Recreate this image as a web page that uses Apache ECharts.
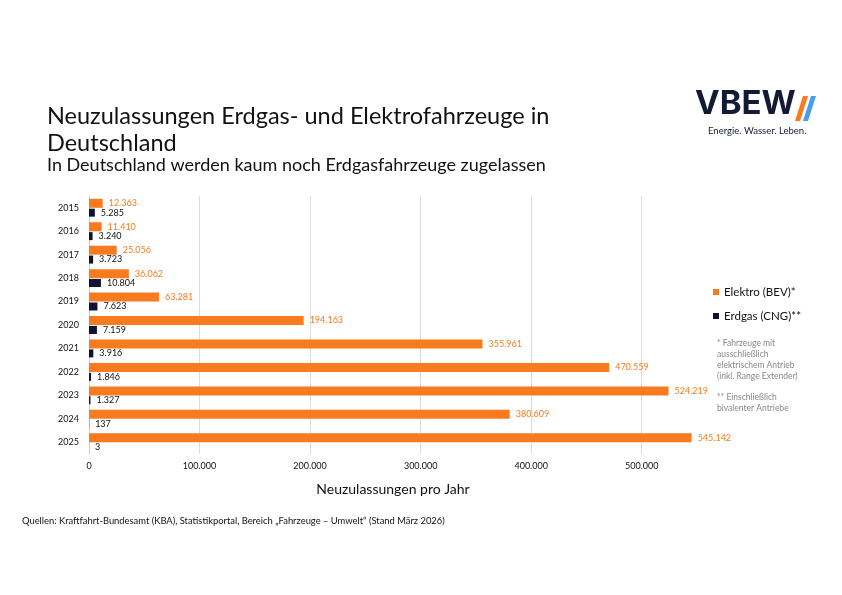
<!DOCTYPE html>
<html>
<head>
<meta charset="utf-8">
<script src="https://cdn.jsdelivr.net/npm/echarts@6/dist/echarts.min.js"></script>
<style>
html,body{margin:0;padding:0;background:#fff;}
#main{width:842px;height:595px;}
</style>
</head>
<body>
<div id="main"></div>
<script>
let years = ['2015','2016','2017','2018','2019','2020','2021','2022','2023','2024','2025'];
let elektro = [12363, 11410, 25056, 36062, 63281, 194163, 355961, 470559, 524219, 380609, 545142];
let erdgas = [5285, 3240, 3723, 10804, 7623, 7159, 3916, 1846, 1327, 137, 3];

let orange = '#fa7a20';
let navy = '#0e1330';
let font = 'Lato';

function fmt(v) {
    return String(v).replace(/\B(?=(\d{3})+(?!\d))/g, '.');
}

let chart = echarts.init(document.getElementById('main'));
let option = {
    backgroundColor: '#fff',
    textStyle: {fontFamily: font},
    title: [{
        text: 'Neuzulassungen Erdgas- und Elektrofahrzeuge in\nDeutschland',
        left: 42, top: 98,
        textStyle: {fontSize: 23.5, fontWeight: 'normal', color: '#111', lineHeight: 27, fontFamily: font}
    }, {
        text: 'In Deutschland werden kaum noch Erdgasfahrzeuge zugelassen',
        left: 42, top: 151,
        textStyle: {fontSize: 18, fontWeight: 'normal', color: '#111', fontFamily: font}
    }],
    graphic: [
        {type: 'text', left: 695, top: 88, style: {text: 'VBEW', fontSize: 33, fontWeight: 'bold', fill: '#131a33', fontFamily: 'Inter'}},
        {type: 'polygon', shape: {points: [[803,96],[808,96],[800,121],[795,121]]}, style: {fill: orange}},
        {type: 'polygon', shape: {points: [[811,96],[816,96],[808,121],[803,121]]}, style: {fill: '#4a9cf0'}},
        {type: 'text', left: 708, top: 126, style: {text: 'Energie. Wasser. Leben.', fontSize: 9.5, fill: '#131a33', fontFamily: font}},
        {type: 'text', left: 717, top: 338, style: {text: '* Fahrzeuge mit\nausschließlich\nelektrischem Antrieb\n(inkl. Range Extender)', fontSize: 8.5, lineHeight: 11, fill: '#888', fontFamily: font}},
        {type: 'text', left: 717, top: 392, style: {text: '** Einschließlich\nbivalenter Antriebe', fontSize: 8.5, lineHeight: 11, fill: '#888', fontFamily: font}},
        {type: 'text', left: 22, top: 516, style: {text: 'Quellen: Kraftfahrt-Bundesamt (KBA), Statistikportal, Bereich „Fahrzeuge – Umwelt“ (Stand März 2026)', fontSize: 9.4, fill: '#111', fontFamily: font}}
    ],
    legend: {
        orient: 'vertical',
        left: 708, top: 281,
        itemWidth: 6, itemHeight: 6, itemGap: 12,
        icon: 'rect',
        textStyle: {fontSize: 11.5, color: '#111', fontFamily: font},
        data: ['Elektro (BEV)*', 'Erdgas (CNG)**']
    },
    grid: {left: 89, top: 196, width: 608, height: 258},
    xAxis: {
        type: 'value',
        min: 0, max: 550000, interval: 100000,
        name: 'Neuzulassungen pro Jahr',
        nameLocation: 'middle', nameGap: 28,
        nameTextStyle: {fontSize: 14, color: '#111', fontFamily: font},
        axisLabel: {formatter: fmt, fontSize: 9, color: '#111', showMaxLabel: false},
        axisLine: {show: false},
        axisTick: {show: false},
        splitLine: {lineStyle: {color: '#ddd'}, showMaxLine: false}
    },
    yAxis: {
        type: 'category',
        data: years,
        inverse: true,
        axisLabel: {fontSize: 9, color: '#111', margin: 10},
        axisLine: {lineStyle: {color: '#ccc'}},
        axisTick: {show: false}
    },
    series: [{
        name: 'Elektro (BEV)*',
        type: 'bar',
        data: elektro,
        barWidth: 9,
        barGap: '10%',
        itemStyle: {color: orange},
        label: {show: true, position: 'right', distance: 6, formatter: p => fmt(p.value), fontSize: 9, color: orange}
    }, {
        name: 'Erdgas (CNG)**',
        type: 'bar',
        data: erdgas,
        barWidth: 8,
        itemStyle: {color: navy},
        label: {show: true, position: 'right', distance: 6, formatter: p => fmt(p.value), fontSize: 9, color: '#111'}
    }]
};
chart.setOption(option);
</script>
</body>
</html>
